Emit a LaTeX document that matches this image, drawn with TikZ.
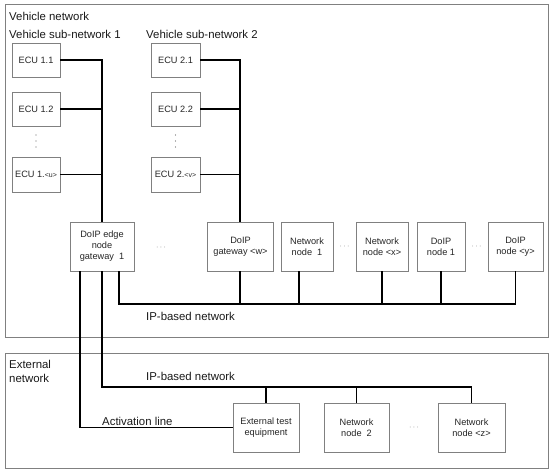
\documentclass[tikz,border=0pt]{standalone}
\usepackage{fontspec}
\setmainfont{Liberation Sans}
\usetikzlibrary{positioning, calc}

\begin{document}
\begin{tikzpicture}[x=1pt, y=-1pt,
      unit/.style={draw=black!50, line width=0.8pt, fill=white, align=center, text=black!85,
        font=\fontsize{9.2}{11}\selectfont, inner sep=0pt, minimum height=34pt},
      bus/.style={line width=1.9pt},
      region/.style={draw=black!50, line width=1pt},
      lbl/.style={font=\fontsize{11.4}{14}\selectfont, anchor=west, inner sep=0pt, align=left, text=black!90},
      gap/.style={font=\fontsize{8}{8}\selectfont, text=black!60, inner sep=0pt}]
      \useasboundingbox (0,0) rectangle (554,473);

      \draw[region] (5,5) rectangle (548,337);
      \draw[region] (5,353) rectangle (548,468);

      \node[lbl] (vnet) at (9,16) {Vehicle network};
      \node[lbl] (subA) at (9,34) {Vehicle sub-network 1};
      \node[lbl] (subB) at (146,34) {Vehicle sub-network 2};
      \node[lbl] (enet) at (9,371) {External\\network};

      \node[unit, minimum width=48pt] (ecuA1) at (36,60) {ECU 1.1};
      \node[unit, minimum width=48pt] (ecuA2) at (36,109) {ECU 1.2};
      \node[unit, minimum width=48pt, minimum height=35pt] (ecuAu) at (36,174.5) {ECU 1.\scriptsize<u>};

      \node[unit, minimum width=49pt] (ecuB1) at (175.5,60) {ECU 2.1};
      \node[unit, minimum width=49pt] (ecuB2) at (175.5,109) {ECU 2.2};
      \node[unit, minimum width=49pt, minimum height=35pt] (ecuBv) at (175.5,174.5) {ECU 2.\scriptsize<v>};

      \foreach \y in {135,141,147} {
        \fill[black!60] (36,\y) circle (0.7);
        \fill[black!60] (175.5,\y) circle (0.7);
      }

      \node[unit, minimum width=64pt, minimum height=49pt] (gw1) at (102,246.5) {DoIP edge\\node\\gateway\ \ 1};
      \node[gap] (dotsC) at (161,248) {$\cdots$};
      \node[unit, minimum width=66pt, minimum height=49pt] (gww) at (240.5,246.5) {DoIP\\gateway <w>};
      \node[unit, minimum width=52pt, minimum height=49pt] (nn1) at (307,246.5) {Network\\node\ \ 1};
      \node[gap] (dotsD) at (344.5,247) {$\cdots$};
      \node[unit, minimum width=52pt, minimum height=49pt] (nnx) at (382,246.5) {Network\\node <x>};
      \node[unit, minimum width=48pt, minimum height=49pt] (dn1) at (441,246.5) {DoIP\\node 1};
      \node[gap] (dotsE) at (476.5,247) {$\cdots$};
      \node[unit, minimum width=55pt, minimum height=49pt] (dny) at (515.5,246.5) {DoIP\\node <y>};

      \node[unit, minimum width=66pt, minimum height=49pt] (ext) at (266,427.5) {External test\\equipment};
      \node[unit, minimum width=65pt, minimum height=49pt] (nn2) at (356.5,427.5) {Network\\node\ \ 2};
      \node[gap] (dotsF) at (414,428) {$\cdots$};
      \node[unit, minimum width=67pt, minimum height=49pt] (nnz) at (471.5,427.5) {Network\\node <z>};

      \coordinate (busA) at (102,60);
      \draw[bus] (ecuA1.east) -- (busA) -- (busA |- gw1.north);
      \draw[bus] (ecuA2.east) -- (ecuA2.east -| busA);
      \draw[bus] (ecuAu.east) -- (ecuAu.east -| busA);

      \coordinate (busB) at (240,60);
      \draw[bus] (ecuB1.east) -- (busB) -- (busB |- gww.north);
      \draw[bus] (ecuB2.east) -- (ecuB2.east -| busB);
      \draw[bus] (ecuBv.east) -- (ecuBv.east -| busB);

      \coordinate (ipA) at (119,304);
      \draw[bus] (ipA |- gw1.south) -- (ipA) -| (dny.south);
      \draw[bus] (busB |- gww.south) -- (busB |- ipA);
      \draw[bus] ([xshift=-8pt]nn1.south) -- ([xshift=-8pt]nn1.south |- ipA);
      \draw[bus] (nnx.south) -- (nnx.south |- ipA);
      \draw[bus] (dn1.south) -- (dn1.south |- ipA);
      \node[lbl] (ipAlbl) at (146,316) {IP-based network};

      \coordinate (ipB) at (102,387);
      \draw[bus] (gw1.south) -- (ipB) -| (nnz.north);
      \draw[bus] (ext.north) -- (ext.north |- ipB);
      \draw[bus] (nn2.north) -- (nn2.north |- ipB);
      \node[lbl] (ipBlbl) at (146,376) {IP-based network};

      \draw[bus] ([xshift=-22pt]gw1.south) |- (ext.west);
      \node[lbl] (actlbl) at (102,421) {Activation line};
\end{tikzpicture}
\end{document}
